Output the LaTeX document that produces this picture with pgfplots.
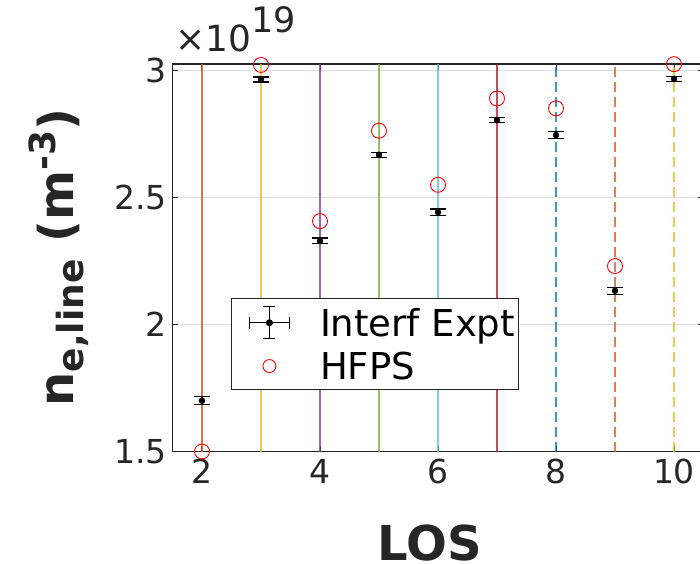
\documentclass[border=0pt]{standalone}
\usepackage{pgfplots}
\pgfplotsset{compat=1.18}
\usepackage{pgfplotstable}
\usepackage{fontspec}
\setmainfont{DejaVu Sans}

% MATLAB default colour order
\definecolor{mblue}{rgb}{0,0.447,0.741}
\definecolor{morange}{rgb}{0.85,0.325,0.098}
\definecolor{myellow}{rgb}{0.929,0.694,0.125}
\definecolor{mpurple}{rgb}{0.494,0.184,0.556}
\definecolor{mgreen}{rgb}{0.466,0.674,0.188}
\definecolor{mcyan}{rgb}{0.301,0.745,0.933}
\definecolor{mdarkred}{rgb}{0.635,0.078,0.184}
\definecolor{axisgray}{rgb}{0.15,0.15,0.15}

% line-integrated density per line of sight, in units of 1e19 m^-3
\pgfplotstableread{
los  expt   err    hfps
2    1.700  0.016  1.500
3    2.965  0.010  3.022
4    2.329  0.011  2.407
5    2.668  0.010  2.763
6    2.442  0.013  2.550
7    2.805  0.010  2.890
8    2.746  0.015  2.851
9    2.133  0.014  2.230
10   2.967  0.010  3.025
}\losdata

\newcommand{\tickfont}{\fontsize{33}{38}\selectfont}
\newcommand{\labfont}{\fontsize{48}{54}\selectfont\bfseries}
\newcommand{\scriptfnt}{\fontsize{36}{40}\selectfont\bfseries}

\begin{document}
\begin{tikzpicture}
\begin{axis}[
  at={(0,0)}, anchor=south west,
  scale only axis,
  width=531pt, height=387.5pt,
  xmin=1.5, xmax=10.5,
  ymin=1.5, ymax=3.0256,
  clip=false,
  axis line style={axisgray, line width=1.2pt},
  xtick={2,4,6,8,10},
  ytick={1.5,2,2.5,3},
  tick align=inside,
  major tick length=6pt,
  tick style={axisgray, line width=1pt},
  ymajorgrids,
  grid style={gray!25, line width=0.8pt},
  /pgf/number format/assume math mode=true,
  ticklabel style={font=\tickfont, text=black!85},
  xticklabel style={yshift=-4pt},
  yticklabel style={xshift=-2pt},
  xlabel={LOS},
  xlabel style={font=\labfont, text=black!85, at={(axis description cs:0.485,-0.235)}, anchor=center},
  ylabel={n\raisebox{-10pt}{\scriptfnt e,line} (m\raisebox{18pt}{\scriptfnt -3})},
  ylabel style={font=\labfont, text=black!85, at={(axis description cs:-0.214,0.5)}, anchor=center},
  legend style={at={(axis cs:2.49,1.742)}, anchor=south west,
    font=\fontsize{37}{41}\selectfont, draw=axisgray, line width=1pt,
    inner xsep=0pt, inner ysep=5pt, row sep=6pt,
    nodes={inner xsep=4pt, inner ysep=4pt},
    /tikz/every odd column/.style={column sep=26pt},
    /tikz/every even column/.style={column sep=4pt}},
  legend cell align=left,
]
% line-of-sight markers
\addplot[morange, opacity=0.8, line width=2pt, forget plot] coordinates {(2,1.5) (2,3.0256)};
\addplot[myellow, opacity=0.75, line width=2pt, forget plot] coordinates {(3,1.5) (3,3.0256)};
\addplot[mpurple, opacity=0.75, line width=2pt, forget plot] coordinates {(4,1.5) (4,3.0256)};
\addplot[mgreen, opacity=0.75, line width=2pt, forget plot] coordinates {(5,1.5) (5,3.0256)};
\addplot[mcyan, opacity=0.75, line width=2pt, forget plot] coordinates {(6,1.5) (6,3.0256)};
\addplot[mdarkred, opacity=0.75, line width=2pt, forget plot] coordinates {(7,1.5) (7,3.0256)};
\addplot[mblue, opacity=0.75, line width=2pt, dash pattern=on 10pt off 5pt, forget plot] coordinates {(8,1.5) (8,3.0256)};
\addplot[morange, opacity=0.75, line width=2pt, dash pattern=on 10pt off 5pt, forget plot] coordinates {(9,1.5) (9,3.0256)};
\addplot[myellow, opacity=0.75, line width=2pt, dash pattern=on 10pt off 5pt, forget plot] coordinates {(10,1.5) (10,3.0256)};

% interferometer measurement
\addplot[black, only marks, mark=*, mark size=3pt,
  legend image code/.code={
    \draw[white, opacity=0, line width=0.1pt] (-18pt,0pt) -- (-17pt,0pt);
    \draw[black, line width=1.2pt] (0pt,0pt) -- (40pt,0pt)
      (0pt,-6pt) -- (0pt,6pt) (40pt,-6pt) -- (40pt,6pt)
      (20pt,-16pt) -- (20pt,16pt) (14pt,-16pt) -- (26pt,-16pt) (14pt,16pt) -- (26pt,16pt);
    \fill[black] (20pt,0pt) circle (3pt);
  },
  error bars/.cd, y dir=both, y explicit,
  error bar style={line width=1.3pt},
  error mark options={rotate=90, mark size=8pt, line width=1.3pt},
  ] table[x=los, y=expt, y error=err] {\losdata};
\addlegendentry{Interf Expt}

% synthetic diagnostic
\addplot[red, only marks, mark=o, mark size=7.5pt, line width=0.9pt,
  legend image code/.code={
    \draw[white, opacity=0, line width=0.1pt] (-18pt,0pt) -- (-17pt,0pt);
    \draw[white, opacity=0, line width=0.1pt] (39pt,0pt) -- (40pt,0pt);
    \draw[red, line width=0.9pt] (20pt,0pt) circle (6.5pt);
  }]
  table[x=los, y=hfps] {\losdata};
\addlegendentry{HFPS}
\end{axis}
\node[anchor=base west, font=\fontsize{36}{40}\selectfont, text=black!85, inner sep=0pt]
  at (3pt,399.5pt) {×10\raisebox{19pt}{\fontsize{35}{40}\selectfont 19}};
\pgfresetboundingbox
\path[use as bounding box] (-172.5pt,-111.5pt) rectangle (527.5pt,451.5pt);
\end{tikzpicture}
\end{document}
